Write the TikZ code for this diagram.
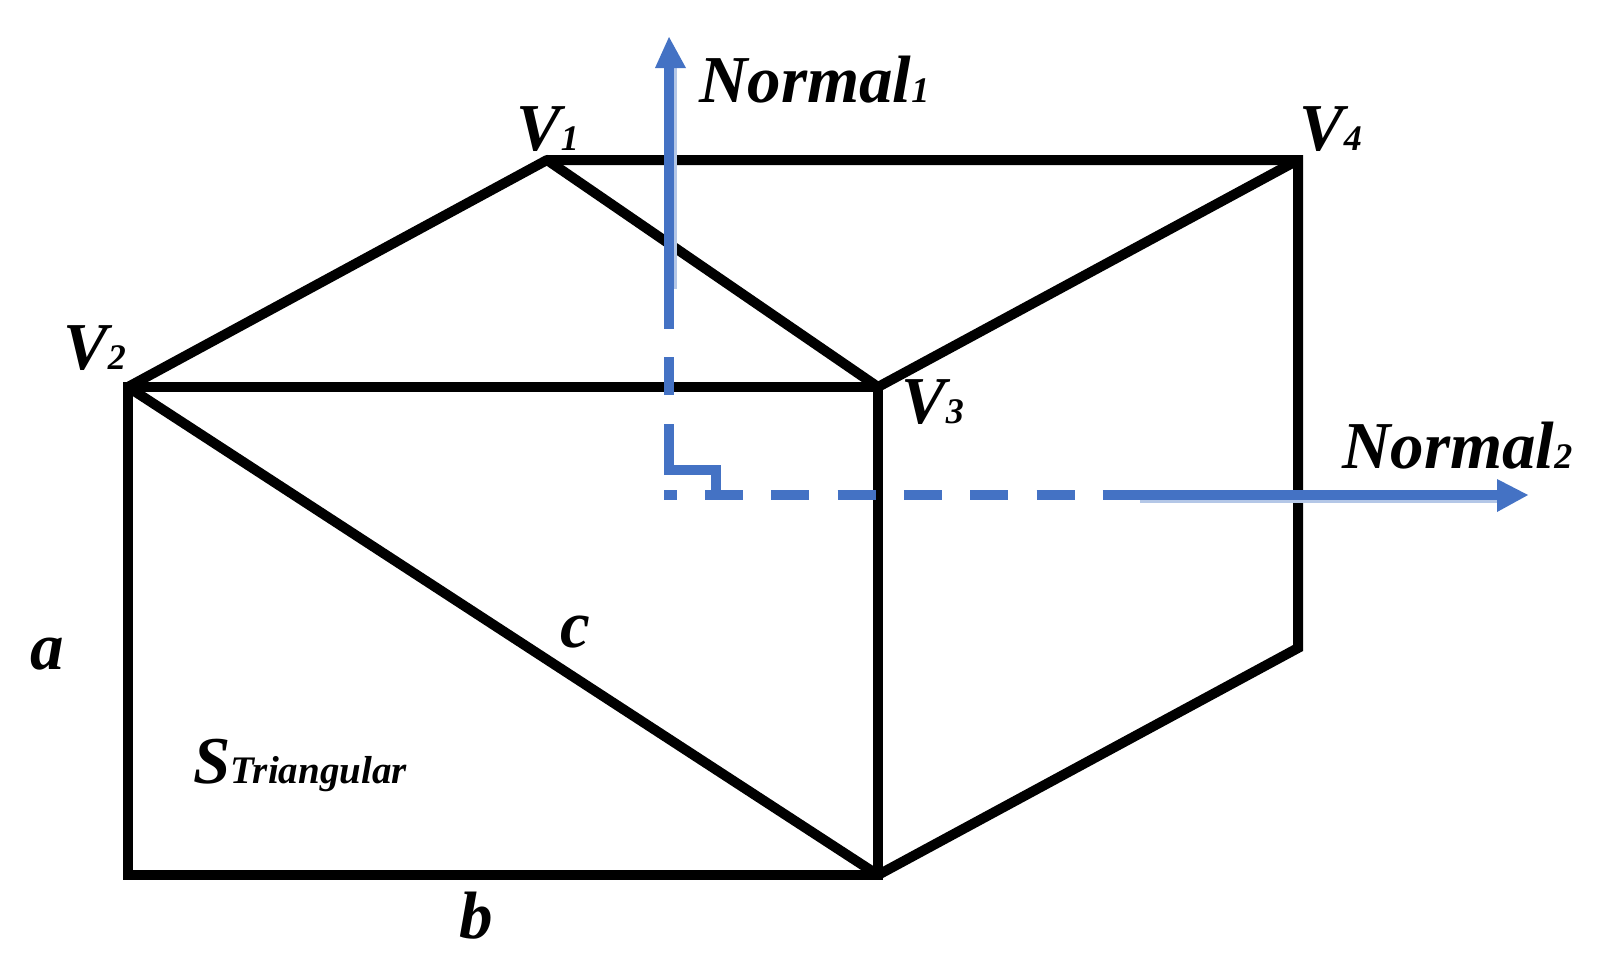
\documentclass[tikz,border=0pt]{standalone}
\usepackage{fontspec}
\setmainfont{Liberation Serif}
\definecolor{nblue}{HTML}{4472C4}
\definecolor{nghost}{HTML}{B4C7E7}
\newcommand{\bigface}{\fontsize{67}{67}\selectfont\bfseries\itshape}
\newcommand{\smallface}{\fontsize{36}{36}\selectfont\bfseries\itshape}
\tikzset{
  x=1pt,y=-1pt,
  edge/.style={draw=black,line width=10pt,line join=miter,line cap=butt},
  roundedge/.style={edge,line join=round},
  normalsolid/.style={draw=nblue,line width=9.5pt,line cap=butt,line join=miter},
  normalghost/.style={draw=nghost,line width=4pt,line cap=butt},
  normaldash/.style={draw=nblue,line width=9.5pt,line cap=butt,dash pattern=on 38pt off 28.3pt},
  head/.style={fill=nblue,draw=none},
  lab/.style={inner sep=0pt,anchor=base west,font=\bigface}
}
\begin{document}
\begin{tikzpicture}
\useasboundingbox (0,0) rectangle (1597,978);
\fill[white] (0,0) rectangle (1597,978);
\coordinate (V1) at (547,160);
\coordinate (V2) at (128,387);
\coordinate (V3) at (878,387);
\coordinate (V4) at (1298,160);
\coordinate (BL) at (128,875);
\coordinate (BM) at (878,875);
\coordinate (BR) at (1298,648);
\coordinate (Nb) at (669,68);
\coordinate (Nt) at (669,37);
\coordinate (Na) at (669,329);
\coordinate (Nc) at (669,357);
\coordinate (Nd) at (669,395);
\coordinate (Ne) at (669,424);
\coordinate (Ga) at (675,68);
\coordinate (Gb) at (675,289);
\coordinate (Ha) at (1140,501);
\coordinate (Hb) at (1497,501);
\coordinate (Sa) at (664,495);
\coordinate (Sb) at (677,495);
\coordinate (Da) at (705,495);
\coordinate (Ma) at (1103,495);
\coordinate (Mb) at (1497,495);
\coordinate (Mt) at (1528,495);
\coordinate (Ra) at (669,470);
\coordinate (Rb) at (716,470);
\coordinate (Rc) at (716,491);
% box edges
\draw[edge] (V2) -- (BL) -- (BM) -- (V3) -- cycle;
\draw[edge] (V1) -- (V4) -- (BR) -- (BM);
\draw[roundedge] (V2) -- (V1) -- (V3);
\draw[edge] (V3) -- (V4);
\draw[edge] (V2) -- (BM);
% normals
\draw[normalghost] (Ga) -- (Gb);
\draw[normalghost] (Ha) -- (Hb);
\draw[normalsolid] (Nb) -- (Na);
\draw[normalsolid] (Nc) -- (Nd);
\draw[normalsolid] (Ne) -- (Ra) -- (Rb) -- (Rc);
\draw[normalsolid] (Sa) -- (Sb);
\draw[normaldash] (Da) -- (Ma);
\draw[normalsolid] (Ma) -- (Mb);
\fill[head] (Nt) -- (686,68) -- (655,68) -- cycle;
\fill[head] (Mt) -- (1497,512) -- (1497,479) -- cycle;
% labels
\node[lab] (n1) at (699,102) {Normal{\smallface 1}};
\node[lab] (n2) at (1342,468) {Normal{\smallface 2}};
\node[lab] (v1) at (516,150) {V{\smallface 1}};
\node[lab] (v2) at (63,369) {V{\smallface 2}};
\node[lab] (v3) at (901,423) {V{\smallface 3}};
\node[lab] (v4) at (1299,150) {V{\smallface 4}};
\node[lab] (a) at (30,669) {a};
\node[lab] (b) at (459,938) {b};
\node[lab] (c) at (560,647) {c};
\node[lab] (s) at (193,783) {S{\fontsize{39}{39}\selectfont\bfseries\itshape Triangular}};
\end{tikzpicture}
\end{document}
